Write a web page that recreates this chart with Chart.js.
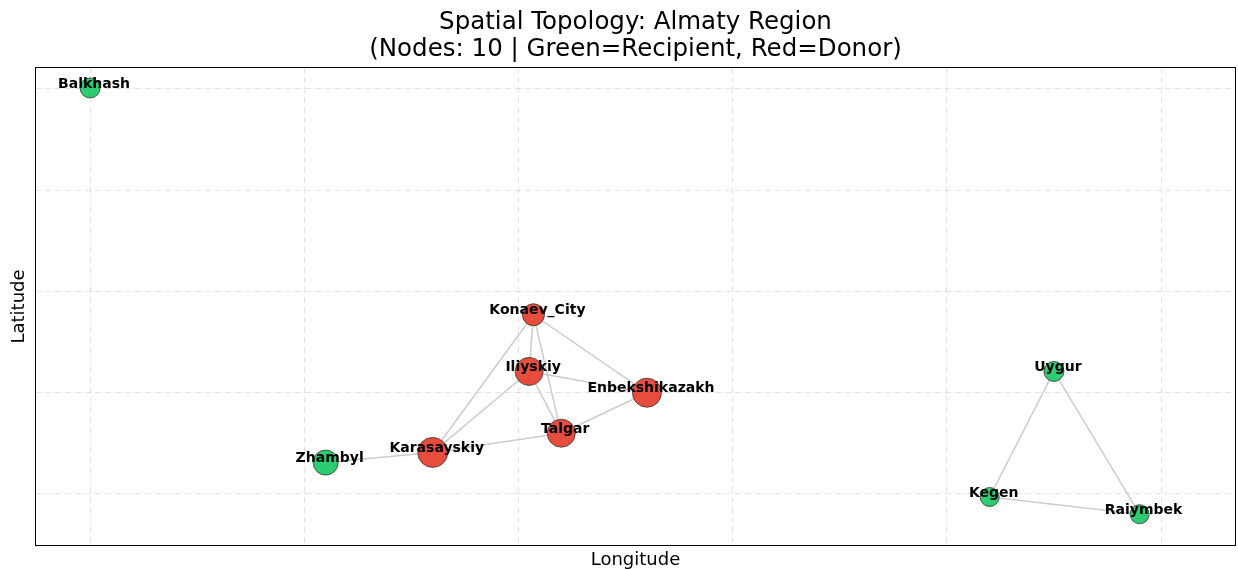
<!DOCTYPE html>
<html>
<head>
<meta charset="utf-8">
<script src="https://cdn.jsdelivr.net/npm/chart.js@4"></script>
<style>
  html, body { margin: 0; padding: 0; background: #fff; overflow: hidden; }
  #wrap { width: 1238px; height: 569px; }
  canvas { display: block; }
</style>
</head>
<body>
<div id="wrap"><canvas id="topoChart"></canvas></div>
<script>
// ==== data ====
const nodeNames = ["Balkhash", "Konaev_City", "Iliyskiy", "Enbekshikazakh", "Talgar",
                   "Karasayskiy", "Zhambyl", "Uygur", "Kegen", "Raiymbek"];
const nodeLon   = [0.00, 2.07, 2.05, 2.60, 2.20, 1.60, 1.10, 4.50, 4.20, 4.90];
const nodeLat   = [4.01, 1.77, 1.21, 1.00, 0.60, 0.41, 0.31, 1.21, -0.03, -0.20];
const nodeRole  = ["Recipient", "Donor", "Donor", "Donor", "Donor",
                   "Donor", "Recipient", "Recipient", "Recipient", "Recipient"];
const nodeWeight = [10, 11, 14, 14.5, 14, 15, 12.5, 10, 9.5, 9.5];

const edgeFrom = ["Zhambyl", "Karasayskiy", "Karasayskiy", "Karasayskiy", "Konaev_City",
                  "Konaev_City", "Konaev_City", "Iliyskiy", "Iliyskiy", "Talgar",
                  "Uygur", "Uygur", "Kegen"];
const edgeTo   = ["Karasayskiy", "Konaev_City", "Iliyskiy", "Talgar", "Iliyskiy",
                  "Talgar", "Enbekshikazakh", "Enbekshikazakh", "Talgar", "Enbekshikazakh",
                  "Kegen", "Raiymbek", "Raiymbek"];

const xTicks = [0, 1, 2, 3, 4, 5];
const yTicks = [0, 1, 2, 3, 4];
const xRange = [-0.257, 5.35];
const yRange = [-0.514, 4.217];

const FONT = "'DejaVu Sans', sans-serif";
const roleColor = { Recipient: "#2ecc71", Donor: "#e74c3c" };

// ==== datasets ====
const idx = name => nodeNames.indexOf(name);

const edgeSets = edgeFrom.map((a, i) => {
  const b = edgeTo[i];
  return {
    type: "line",
    data: [
      { x: nodeLon[idx(a)], y: nodeLat[idx(a)] },
      { x: nodeLon[idx(b)], y: nodeLat[idx(b)] }
    ],
    borderColor: "#cccccc",
    borderWidth: 1.5,
    pointRadius: 0,
    fill: false,
    order: 2
  };
});

const nodeSet = {
  type: "scatter",
  data: nodeNames.map((n, i) => ({ x: nodeLon[i], y: nodeLat[i] })),
  backgroundColor: nodeRole.map(r => roleColor[r]),
  borderColor: "#333333",
  borderWidth: 0.8,
  pointRadius: nodeWeight,
  pointHoverRadius: nodeWeight,
  order: 1
};

// frame around plot + node labels; title centred over the plot area
const framePlugin = {
  id: "frame",
  afterLayout(chart) {
    const tb = chart.titleBlock;
    if (tb) {
      tb.left = chart.chartArea.left;
      tb.right = chart.chartArea.right;
    }
  },
  afterDatasetsDraw(chart) {
    const { ctx, chartArea, scales } = chart;
    ctx.save();
    ctx.font = "bold 14px " + FONT;
    ctx.fillStyle = "#000";
    ctx.textAlign = "center";
    ctx.textBaseline = "middle";
    nodeNames.forEach((n, i) => {
      const px = scales.x.getPixelForValue(nodeLon[i]);
      const py = scales.y.getPixelForValue(nodeLat[i]);
      ctx.fillText(n, px + 4, py - 4);
    });
    ctx.strokeStyle = "#000";
    ctx.lineWidth = 1;
    ctx.strokeRect(chartArea.left + 0.5, chartArea.top + 0.5,
                   chartArea.right - chartArea.left - 1, chartArea.bottom - chartArea.top - 1);
    ctx.restore();
  }
};

new Chart(document.getElementById("topoChart"), {
  data: { datasets: [...edgeSets, nodeSet] },
  options: {
    responsive: true,
    maintainAspectRatio: false,
    animation: false,
    layout: { autoPadding: false, padding: { left: 0, right: 2, top: 0, bottom: 0 } },
    plugins: {
      legend: { display: false },
      tooltip: { enabled: false },
      title: {
        display: true,
        text: ["Spatial Topology: Almaty Region", "(Nodes: 10 | Green=Recipient, Red=Donor)"],
        color: "#000",
        font: { family: FONT, size: 24.5, weight: "normal", lineHeight: "27px" },
        padding: { top: 9, bottom: 4 }
      }
    },
    scales: {
      x: {
        type: "linear",
        min: xRange[0], max: xRange[1],
        afterBuildTicks: s => { s.ticks = xTicks.map(v => ({ value: v })); },
        afterFit: s => { s.height = 23; },
        ticks: { display: false },
        grid: { color: "rgba(176,176,176,0.35)", lineWidth: 1, drawTicks: false },
        border: { display: false, dash: [6, 4] },
        title: { display: true, text: "Longitude", color: "#000",
                 font: { family: FONT, size: 18, lineHeight: 1.0 }, padding: { top: 0, bottom: 0 } }
      },
      y: {
        type: "linear",
        min: yRange[0], max: yRange[1],
        afterBuildTicks: s => { s.ticks = yTicks.map(v => ({ value: v })); },
        afterFit: s => { s.width = 35; },
        ticks: { display: false },
        grid: { color: "rgba(176,176,176,0.35)", lineWidth: 1, drawTicks: false },
        border: { display: false, dash: [6, 4] },
        title: { display: true, text: "Latitude", color: "#000",
                 font: { family: FONT, size: 18 }, padding: { top: 9, bottom: 0 } }
      }
    }
  },
  plugins: [framePlugin]
});
</script>
</body>
</html>
